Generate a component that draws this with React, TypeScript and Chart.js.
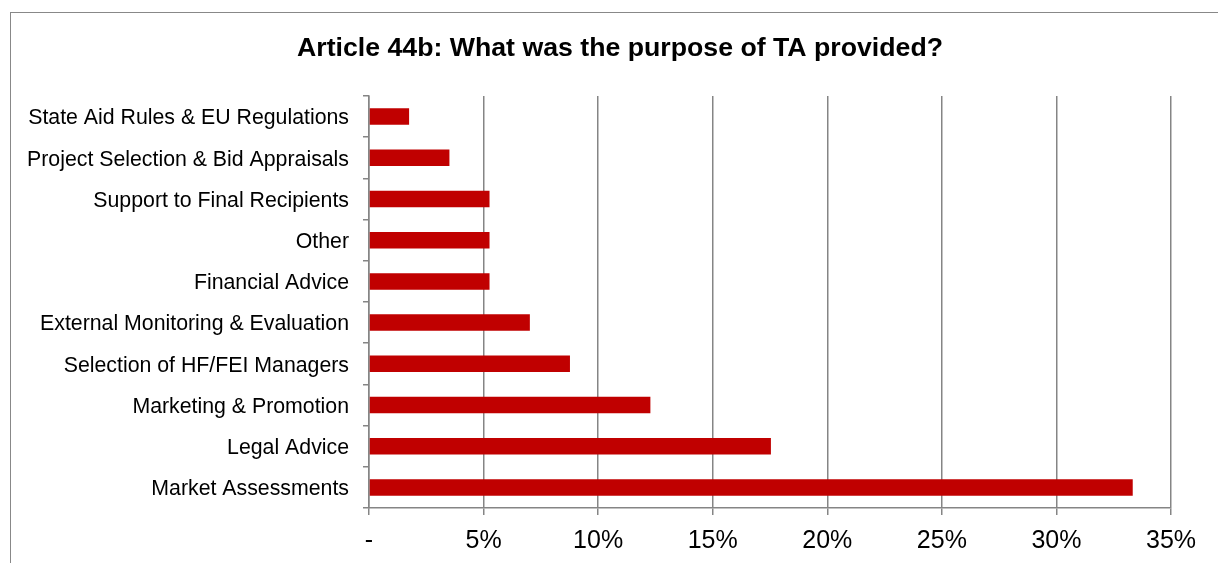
import React, { useEffect, useRef } from "react";
import { Chart, registerables } from "chart.js";

Chart.register(...registerables);

const categories = [
  "State Aid Rules & EU Regulations",
  "Project Selection & Bid Appraisals",
  "Support to Final Recipients",
  "Other",
  "Financial Advice",
  "External Monitoring & Evaluation",
  "Selection of HF/FEI Managers",
  "Marketing & Promotion",
  "Legal Advice",
  "Market Assessments",
];

const shares = [1.75, 3.51, 5.26, 5.26, 5.26, 7.02, 8.77, 12.28, 17.54, 33.33];

const xTicks = [0, 5, 10, 15, 20, 25, 30, 35];

const titleText = "Article 44b: What was the purpose of TA provided?";

const FONT = "'Liberation Sans', Arial, Helvetica, sans-serif";
const GRID = "#858585";

const titlePlugin = {
  id: "offsetTitle",
  afterDraw(chart: any) {
    const ctx = chart.ctx;
    ctx.save();
    ctx.font = `bold 26.7px ${FONT}`;
    ctx.fillStyle = "#000";
    ctx.textAlign = "center";
    ctx.textBaseline = "middle";
    ctx.fillText(titleText, 620, 49);
    ctx.restore();
  },
};

export default function App() {
  const ref = useRef<HTMLCanvasElement | null>(null);

  useEffect(() => {
    if (!ref.current) return;
    const chart = new Chart(ref.current, {
      type: "bar",
      data: {
        labels: categories,
        datasets: [
          {
            data: shares,
            backgroundColor: "#C00000",
            borderWidth: 0,
            categoryPercentage: 1,
            barPercentage: 0.4,
          },
        ],
      },
      options: {
        indexAxis: "y",
        animation: false,
        responsive: false,
        devicePixelRatio: 1,
        layout: { padding: { left: 12, right: 47, top: 96, bottom: 0 } },
        plugins: {
          legend: { display: false },
          tooltip: { enabled: false },
          title: { display: false },
        },
        scales: {
          x: {
            min: 0,
            max: 35,
            afterBuildTicks: (scale: any) => {
              scale.ticks = xTicks.map((v) => ({ value: v }));
            },
            ticks: {
              color: "#000",
              font: { family: FONT, size: 25 },
              padding: 11,
              maxRotation: 0,
              callback: (v: any) => (Number(v) === 0 ? "-" : v + "%"),
            },
            grid: {
              color: GRID,
              lineWidth: 1.5,
              drawTicks: true,
              tickLength: 7,
              tickColor: GRID,
            },
            border: { display: true, color: GRID, width: 1.5 },
          },
          y: {
            offset: true,
            afterFit: (scale: any) => {
              scale.width = 357;
            },
            ticks: {
              color: "#000",
              font: { family: FONT, size: 21.3 },
              padding: 14,
              labelOffset: 2,
              autoSkip: false,
            },
            grid: {
              offset: true,
              drawOnChartArea: false,
              drawTicks: true,
              tickLength: 6,
              color: GRID,
              tickColor: GRID,
              lineWidth: 1.5,
            },
            border: { display: true, color: GRID, width: 1.5 },
          },
        },
      },
      plugins: [titlePlugin],
    });
    return () => chart.destroy();
  }, []);

  return (
    <div
      style={{
        position: "fixed",
        left: 0,
        top: 0,
        width: 1218,
        height: 563,
        overflow: "hidden",
        background: "#fff",
      }}
    >
      <div
        style={{
          position: "absolute",
          left: 10,
          top: 12,
          width: 1300,
          height: 700,
          border: "1px solid #888",
          boxSizing: "border-box",
        }}
      />
      <canvas
        ref={ref}
        width={1218}
        height={567}
        style={{ position: "absolute", left: 0, top: 0, width: 1218, height: 567 }}
      />
    </div>
  );
}
